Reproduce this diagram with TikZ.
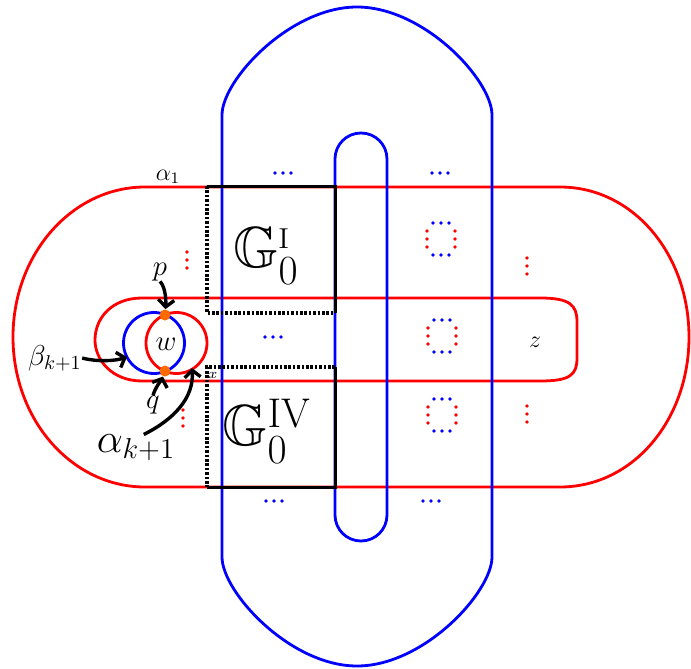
\documentclass[tikz,border=0pt]{standalone}
\usepackage{amssymb}
\usepackage{xcolor}
\definecolor{AlphaRed}{HTML}{FF0000}
\definecolor{BetaBlue}{HTML}{0000FF}
\definecolor{PointOrange}{HTML}{FF6A00}
\usepackage{tikz}
\usetikzlibrary{arrows.meta}

% rows and columns of small dots
\newcommand{\bluerow}[2]{\foreach \dx in {-8,0,8} {\fill[BetaBlue] (#1+\dx,#2) circle[radius=0.95pt];}}
\newcommand{\redcol}[2]{\foreach \dy in {-8,0,8} {\fill[AlphaRed] (#1,#2+\dy) circle[radius=0.95pt];}}
\newcommand{\dotbox}[2]{\bluerow{#1}{#2-16}\bluerow{#1}{#2+16}\redcol{#1-14}{#2}\redcol{#1+14}{#2}}

\begin{document}
\begin{tikzpicture}[x=0.5pt,y=-0.5pt,
    alphacurve/.style={AlphaRed,line width=1.4pt},
    betacurve/.style={BetaBlue,line width=1.4pt},
    solidedge/.style={black,line width=1.5pt},
    dottededge/.style={black,line width=1.6pt,dash pattern=on 1.3pt off 0.9pt},
    pointer/.style={black,line width=1.7pt,-{Straight Barb[length=3.5pt,width=8pt]}},
    spot/.style={circle,fill=PointOrange,inner sep=0pt,minimum size=5.5pt},
    tag/.style={inner sep=0pt}]
    \useasboundingbox (0,0) rectangle (691,669);
    % red curves
    \draw[alphacurve] (145,187) -- (560,187) .. controls (633,187) and (689,254) .. (689,337)
      .. controls (689,420) and (633,487) .. (560,487) -- (145,487)
      .. controls (72,487) and (13,420) .. (13,337) .. controls (13,254) and (72,187) .. (145,187) -- cycle;
    \draw[alphacurve] (142,298) -- (540,298) .. controls (570,298) and (577,305) .. (577,322) -- (577,358)
      .. controls (577,375) and (570,381) .. (540,381) -- (142,381)
      .. controls (112,381) and (95,360) .. (95,340) .. controls (95,318) and (112,298) .. (142,298) -- cycle;
    \draw[alphacurve] (176.5,343) circle[radius=15.25pt];
    % blue curves
    \draw[betacurve] (222,115) .. controls (222,80) and (290,7) .. (357,7) .. controls (424,7) and (492,80) .. (492,115)
      -- (492,557) .. controls (492,592) and (424,666) .. (357,666) .. controls (290,666) and (222,592) .. (222,557) -- cycle;
    \draw[betacurve] (335,159) .. controls (335,144.6) and (346.6,133) .. (361,133) .. controls (375.4,133) and (387,144.6) .. (387,159)
      -- (387,515) .. controls (387,529.4) and (375.4,541) .. (361,541) .. controls (346.6,541) and (335,529.4) .. (335,515) -- cycle;
    \draw[betacurve] (154,343) circle[radius=15.25pt];
    % boxes
    \draw[solidedge] (207,186) -- (335,186) -- (335,313);
    \draw[dottededge] (207,186) -- (207,313) -- (335,313);
    \draw[dottededge] (335,367) -- (207,367) -- (207,487);
    \draw[solidedge] (207,487) -- (335,487) -- (335,367);
    \node[tag,font=\fontsize{29}{32}\selectfont] (gI) at (266,256) {$\mathbb{G}_0^{\scriptscriptstyle\mathrm{I}}$};
    \node[tag,font=\fontsize{29}{32}\selectfont] (gIV) at (267,431) {$\mathbb{G}_0^{\mathrm{IV}}$};
    % dots
    \bluerow{283}{173} \bluerow{440}{173} \bluerow{273}{337} \bluerow{274}{501} \bluerow{431}{501}
    \redcol{187}{260} \redcol{527}{266} \redcol{183}{418} \redcol{527}{414}
    \dotbox{441}{239} \dotbox{442}{336} \dotbox{442}{415}
    % labels
    \node[tag,font=\large] (a1) at (168,177) {$\alpha_1$};
    \node[tag,font=\Large] (pl) at (160,272) {$p$};
    \node[tag,font=\Large] (ql) at (153,405) {$q$};
    \node[tag,font=\Large] (wl) at (166,344) {$w$};
    \node[tag,font=\Large] (bl) at (55,358) {$\beta_{k+1}$};
    \node[tag,font=\huge] (al) at (136,448) {$\alpha_{k+1}$};
    \node[tag,font=\scriptsize] (xl) at (213,375) {$x$};
    \node[tag,font=\large] (zl) at (535,342) {$z$};
    \node[spot] (pdot) at (165,315) {};
    \node[spot] (qdot) at (165,371) {};
    \coordinate (btip) at (127,357);
    \coordinate (atip) at (192,368);
    % pointers
    \draw[pointer] (pl.south) .. controls +(6,6) and +(1,-12) .. (pdot);
    \draw[pointer] (bl.east) .. controls +(15,4) and +(-12,4) .. (btip);
    \draw[pointer] (ql.north) .. controls +(2,-8) and +(-3,8) .. (qdot);
    \draw[pointer] (al.60) .. controls +(30,-15) and +(2,30) .. (atip);
  \end{tikzpicture}
\end{document}
